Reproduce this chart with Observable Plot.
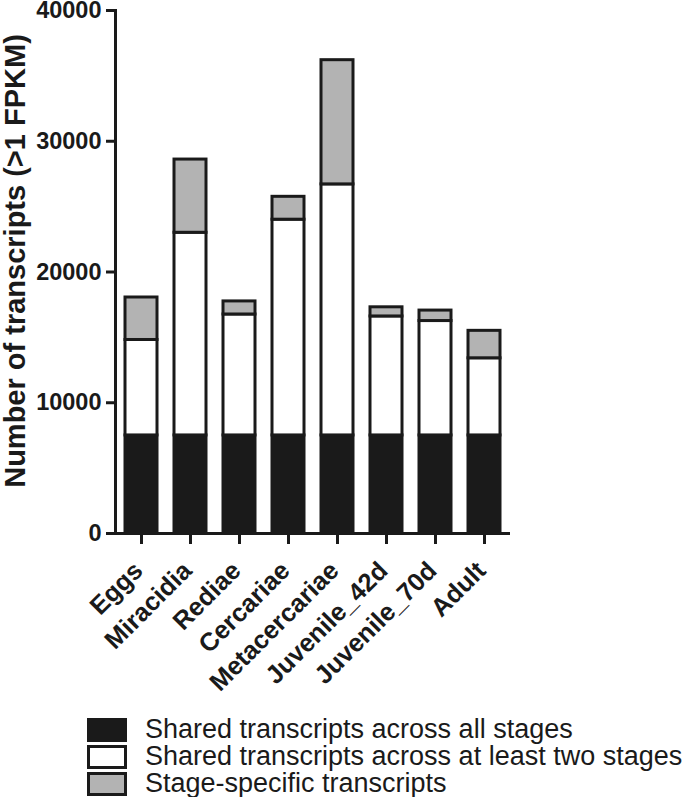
<!DOCTYPE html>
<html>
<head>
<meta charset="utf-8">
<script src="https://cdn.jsdelivr.net/npm/d3@7"></script>
<script src="https://cdn.jsdelivr.net/npm/@observablehq/plot@0.6"></script>
<style>
  body { margin: 0; background: #fff; font-family: "Liberation Sans", Arial, sans-serif; }
  #legend { padding-left: 87px; }
  .row { display: flex; align-items: center; height: 27px; line-height: 27px; font-size: 27px; color: #1a1a1a; white-space: nowrap; }
  .sw { width: 40px; height: 24px; box-sizing: border-box; border: 3px solid #1a1a1a; margin-right: 18px; flex: none; }
</style>
</head>
<body>
<div id="chart"></div>
<div id="legend"></div>
<script>
const stages = ["Eggs", "Miracidia", "Rediae", "Cercariae", "Metacercariae", "Juvenile_42d", "Juvenile_70d", "Adult"];
const categories = ["Shared transcripts across all stages", "Shared transcripts across at least two stages", "Stage-specific transcripts"];
const sharedAll = [7500, 7500, 7500, 7500, 7500, 7500, 7500, 7500];
const sharedTwo = [7300, 15500, 9250, 16500, 19200, 9100, 8750, 5900];
const specific = [3250, 5600, 1000, 1750, 9500, 700, 800, 2100];
const colors = ["#1a1a1a", "#ffffff", "#b3b3b3"];
const yTicks = [0, 10000, 20000, 30000, 40000];
const yLabel = "Number of transcripts (>1 FPKM)";

const series = [sharedAll, sharedTwo, specific];
const data = [];
stages.forEach((s, i) => {
  categories.forEach((c, j) => data.push({stage: s, category: c, value: series[j][i]}));
});

const ink = "#1a1a1a";
const chart = Plot.plot({
  width: 685,
  height: 716,
  marginTop: 10,
  marginBottom: 183,
  marginLeft: 115,
  marginRight: 175,
  style: {fontFamily: "'Liberation Sans', Arial, sans-serif", color: ink},
  x: {domain: stages, padding: 0.35, paddingOuter: 0.175, label: null},
  y: {domain: [0, 40000], label: null},
  color: {domain: categories, range: colors},
  marks: [
    Plot.barY(data, {x: "stage", y: "value", fill: "category", stroke: ink, strokeWidth: 3}),
    Plot.frame({anchor: "left", stroke: ink, strokeWidth: 3}),
    Plot.ruleY([0], {stroke: ink, strokeWidth: 3}),
    Plot.axisY({ticks: yTicks, tickFormat: d3.format("d"), tickSize: 9, tickPadding: 5, strokeWidth: 3, stroke: ink,
      fontSize: 23.5, fontWeight: "bold", fill: ink, label: null}),
    Plot.axisX({tickRotate: -45, tickSize: 11, strokeWidth: 3, stroke: ink, label: null, text: null}),
    Plot.axisX({tickRotate: -45, tickSize: 0, tickPadding: 33, dx: -3,
      fontSize: 25.5, fontWeight: "bold", fill: ink, label: null}),
    Plot.text([yLabel], {frameAnchor: "left", rotate: -90, dx: -100, dy: -11, fontSize: 29, fontWeight: "bold", fill: ink, textAnchor: "middle"})
  ]
});
document.getElementById("chart").appendChild(chart);

const legend = document.getElementById("legend");
categories.forEach((c, j) => {
  const row = document.createElement("div");
  row.className = "row";
  const sw = document.createElement("div");
  sw.className = "sw";
  sw.style.background = colors[j];
  const t = document.createElement("span");
  t.textContent = c;
  row.appendChild(sw);
  row.appendChild(t);
  legend.appendChild(row);
});
</script>
</body>
</html>
